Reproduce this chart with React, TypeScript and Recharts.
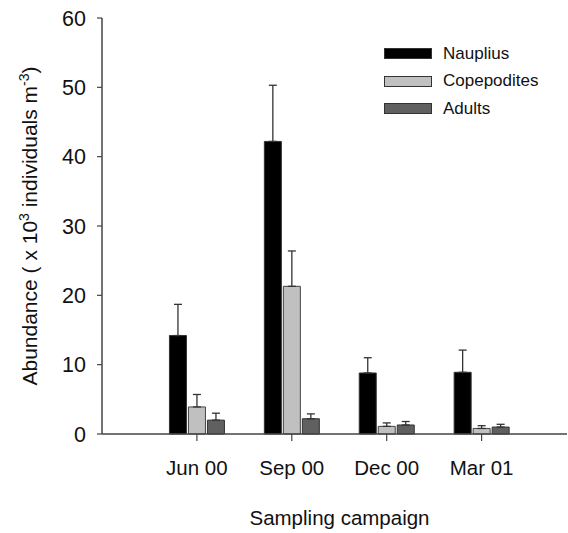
import React from "react";
import { BarChart, Bar, XAxis, YAxis, ErrorBar, Legend, Label } from "recharts";

const campaigns = ["Jun 00", "Sep 00", "Dec 00", "Mar 01"];
const campaignPos = [1, 2, 3, 4];
const seriesNames = ["Nauplius", "Copepodites", "Adults"];
const nauplius = [14.2, 42.2, 8.8, 8.9];
const naupliusErr = [4.5, 8.1, 2.2, 3.2];
const copepodites = [3.9, 21.3, 1.1, 0.8];
const copepoditesErr = [1.8, 5.1, 0.5, 0.4];
const adults = [2.0, 2.2, 1.3, 1.0];
const adultsErr = [1.0, 0.7, 0.5, 0.4];
const yTicks = [0, 10, 20, 30, 40, 50, 60];

const FONT = "'Liberation Sans', Arial, sans-serif";
const AXIS = "#444";

// one-sided (upward) error bars: [below, above]
const data = campaigns.map((c, i) => ({
  pos: campaignPos[i],
  label: c,
  Nauplius: nauplius[i],
  naupliusErr: [0, naupliusErr[i]],
  Copepodites: copepodites[i],
  copepoditesErr: [0, copepoditesErr[i]],
  Adults: adults[i],
  adultsErr: [0, adultsErr[i]],
}));

const LegendBox = (props: any) => {
  const items = [...(props.payload || [])].sort(
    (a: any, b: any) => seriesNames.indexOf(a.value) - seriesNames.indexOf(b.value)
  );
  return (
    <div style={{ fontFamily: FONT }}>
      {items.map((p: any) => (
        <div key={p.value} style={{ display: "flex", alignItems: "center", height: 27.5 }}>
          <div
            style={{
              width: 46,
              height: 9,
              background: p.payload?.fill || p.color,
              border: "1px solid #333",
              marginRight: 11,
            }}
          />
          <span style={{ fontSize: 17, color: "#111" }}>{p.value}</span>
        </div>
      ))}
    </div>
  );
};

const YTitle = () => (
  <text
    x={37}
    y={226}
    transform="rotate(-90, 37, 226)"
    textAnchor="middle"
    fontSize={21}
    fontFamily={FONT}
    fill="#111"
  >
    <tspan>Abundance ( x 10</tspan>
    <tspan dy={-8} fontSize={14}>3</tspan>
    <tspan dy={8}> individuals m</tspan>
    <tspan dy={-8} fontSize={14}>-3</tspan>
    <tspan dy={8}>)</tspan>
  </text>
);

const XTitle = (props: any) => {
  const vb = props.viewBox || { x: 102, y: 434, width: 465 };
  return (
    <text
      x={vb.x + vb.width / 2 + 5}
      y={vb.y + 91}
      textAnchor="middle"
      fontSize={20.5}
      fontFamily={FONT}
      fill="#111"
    >
      Sampling campaign
    </text>
  );
};

export default function App() {
  return (
    <div style={{ position: "absolute", left: 0, top: 0, background: "#fff" }}>
      <BarChart
        width={568}
        height={533}
        data={data}
        margin={{ top: 18, right: 1, left: 40, bottom: 39 }}
        barGap={2}
        style={{ fontFamily: FONT }}
      >
        <XAxis
          type="number"
          dataKey="pos"
          domain={[0, 4.9]}
          ticks={campaignPos}
          tickFormatter={(v: number) => campaigns[v - 1]}
          height={60}
          tickSize={7}
          tickMargin={19}
          axisLine={{ stroke: AXIS, strokeWidth: 1.5 }}
          tickLine={{ stroke: AXIS, strokeWidth: 1.2 }}
          tick={{ fontSize: 20.5, fill: "#111", fontFamily: FONT }}
        >
          <Label content={<XTitle />} />
        </XAxis>
        <YAxis
          domain={[0, 60]}
          ticks={yTicks}
          width={62}
          tickSize={5}
          tickMargin={11}
          axisLine={{ stroke: AXIS, strokeWidth: 1.5 }}
          tickLine={{ stroke: AXIS, strokeWidth: 1.2 }}
          tick={{ fontSize: 21.5, fill: "#111", fontFamily: FONT }}
        >
          <Label content={<YTitle />} />
        </YAxis>
        <Legend
          layout="horizontal"
          verticalAlign="middle"
          align="center"
          content={<LegendBox />}
          wrapperStyle={{ left: 384, top: 40, width: 180 }}
        />
        <Bar dataKey="Nauplius" fill="#000000" stroke="#333" strokeWidth={1} barSize={17} isAnimationActive={false}>
          <ErrorBar dataKey="naupliusErr" width={4} stroke="#333" strokeWidth={1.3} isAnimationActive={false} />
        </Bar>
        <Bar dataKey="Copepodites" fill="#c0c0c0" stroke="#444" strokeWidth={1} barSize={17} isAnimationActive={false}>
          <ErrorBar dataKey="copepoditesErr" width={4} stroke="#333" strokeWidth={1.3} isAnimationActive={false} />
        </Bar>
        <Bar dataKey="Adults" fill="#606060" stroke="#333" strokeWidth={1} barSize={17} isAnimationActive={false}>
          <ErrorBar dataKey="adultsErr" width={4} stroke="#333" strokeWidth={1.3} isAnimationActive={false} />
        </Bar>
      </BarChart>
    </div>
  );
}
